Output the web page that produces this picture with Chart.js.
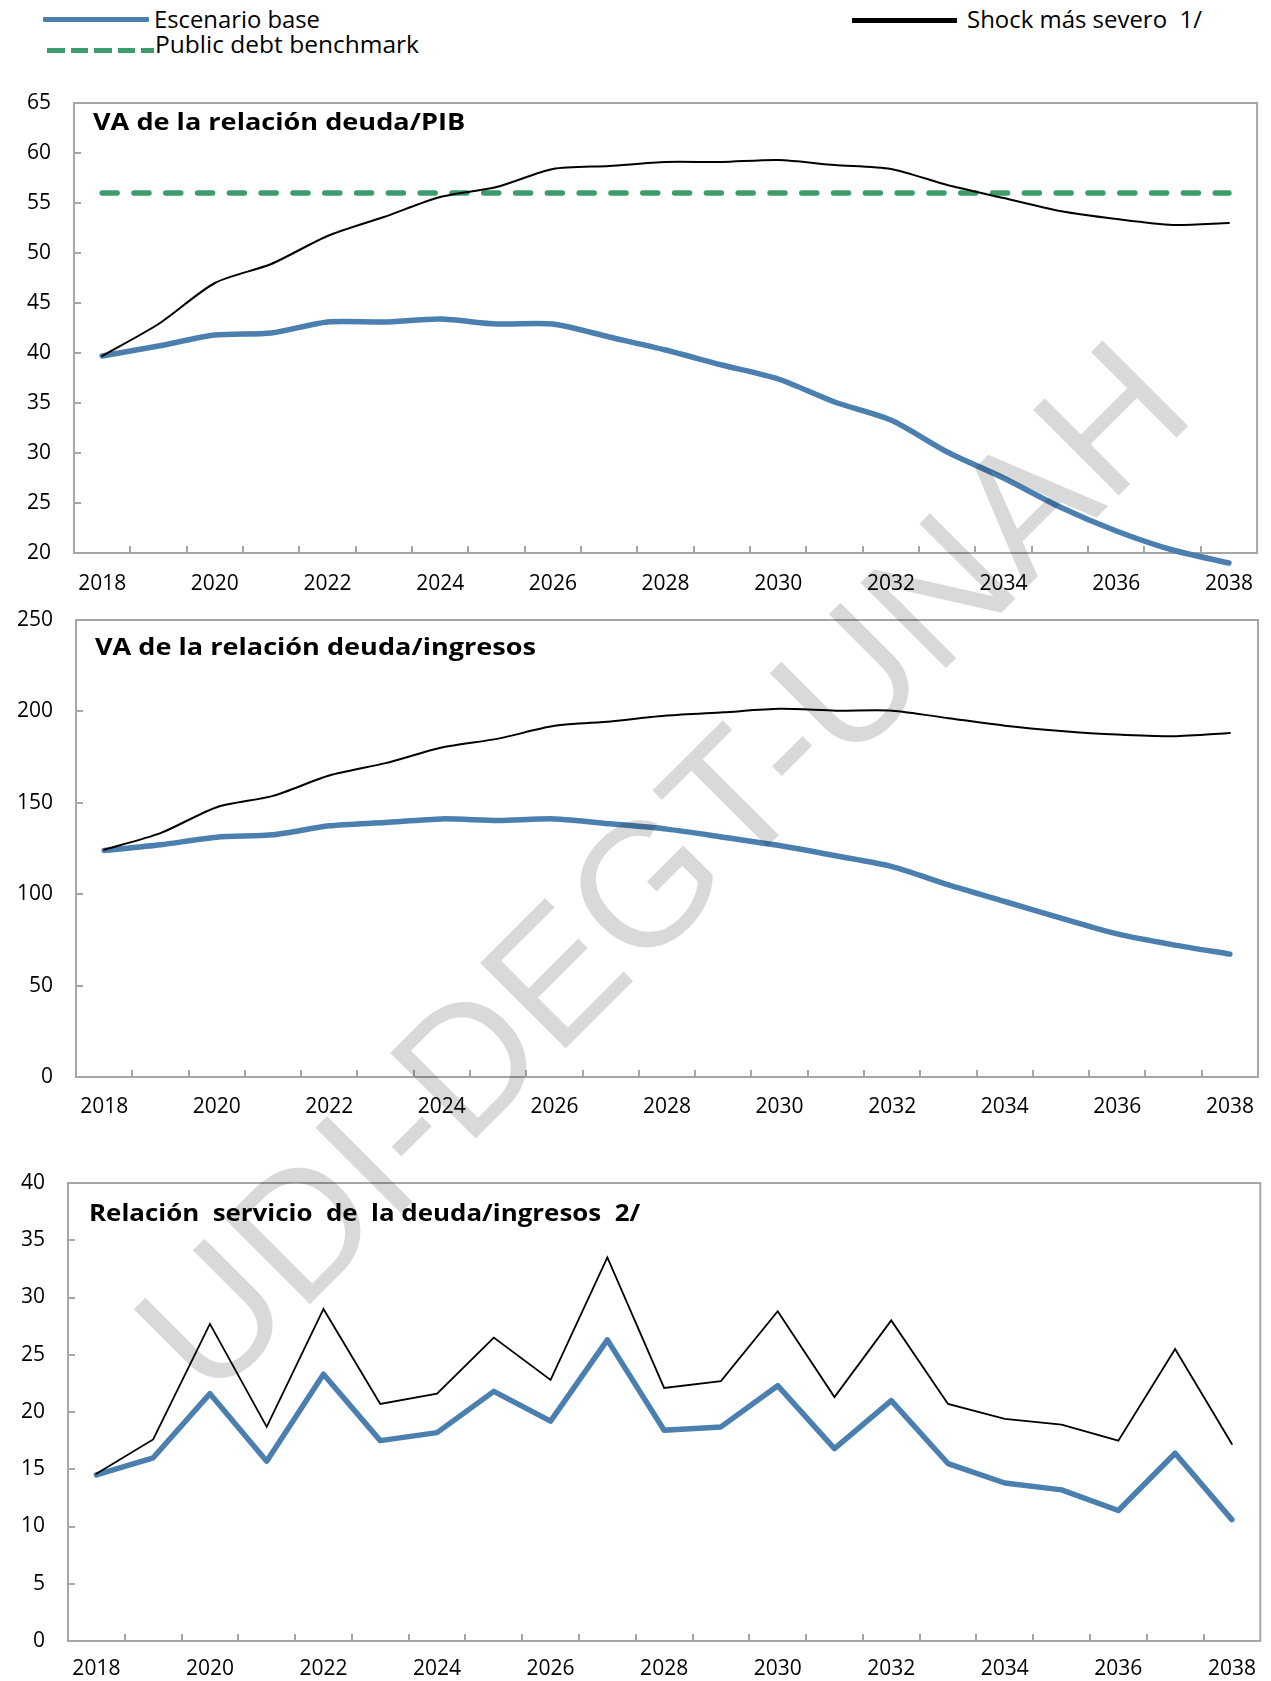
<!DOCTYPE html>
<html>
<head>
<meta charset="utf-8">
<script src="https://cdn.jsdelivr.net/npm/chart.js@4.4.1/dist/chart.umd.min.js"></script>
<style>
  html, body { margin: 0; padding: 0; background: #fff; }
  body { width: 1271px; height: 1681px; position: relative; overflow: hidden; font-family: 'Open Sans', sans-serif; }
  canvas.cv { position: absolute; left: 0; }
  .ttl { position: absolute; font-weight: bold; font-size: 23px; line-height: 23px; white-space: pre; transform-origin: 0 50%; color: #000; }
  .lg { position: absolute; font-size: 23px; line-height: 23px; white-space: pre; transform-origin: 0 50%; color: #000; }
  .sw { position: absolute; }
  .wm { position: absolute; left: 661px; top: 867px; transform: translate(-50%, -50%) rotate(-45deg);
        font-family: 'Liberation Sans', Arial, sans-serif; font-size: 176px; line-height: 1; white-space: nowrap;
        color: rgba(0,0,0,0.15); pointer-events: none; z-index: 10; }
</style>
</head>
<body>
<!-- legend -->
<div class="sw" style="left:43px;top:16.5px;width:106px;height:5.5px;background:#4A7FB0;border-radius:1px;"></div>
<div class="lg" data-w="166" style="left:154px;top:7.8px;">Escenario base</div>
<div class="sw" style="left:47px;top:48.3px;width:107px;height:5px;background:repeating-linear-gradient(to right,#3C9C6C 0,#3C9C6C 17.5px,transparent 17.5px,transparent 23.5px);"></div>
<div class="lg" data-w="264" style="left:155px;top:33.1px;">Public debt benchmark</div>
<div class="sw" style="left:852px;top:18.3px;width:105px;height:4.4px;background:#000;"></div>
<div class="lg" data-w="235" style="left:967px;top:7.8px;">Shock más severo  1/</div>

<canvas id="c1" class="cv" width="1271" height="554" style="top:56px"></canvas>
<canvas id="c2" class="cv" width="1271" height="555" style="top:580px"></canvas>
<canvas id="c3" class="cv" width="1271" height="541" style="top:1140px"></canvas>

<div class="ttl" data-w="372" style="left:93px;top:109.5px;">VA de la relación deuda/PIB</div>
<div class="ttl" data-w="441" style="left:95px;top:634.8px;">VA de la relación deuda/ingresos</div>
<div class="ttl" data-w="551" style="left:89px;top:1201px;">Relación  servicio  de  la deuda/ingresos  2/</div>

<div class="wm">UDI-DEGT-UNAH</div>

<script>
// ---- data ----
const years = ['2018','2019','2020','2021','2022','2023','2024','2025','2026','2027','2028',
               '2029','2030','2031','2032','2033','2034','2035','2036','2037','2038'];
const xTickLabels = ['2018','','2020','','2022','','2024','','2026','','2028',
                     '','2030','','2032','','2034','','2036','','2038'];

// VA de la relación deuda/PIB
const pibBase  = [39.7,40.7,41.8,42.0,43.1,43.1,43.4,42.9,42.9,41.6,40.3,38.8,37.4,35.1,33.3,30.1,27.5,24.6,22.2,20.3,19.0];
const pibShock = [39.7,42.9,47.0,48.9,51.7,53.6,55.6,56.6,58.4,58.7,59.1,59.1,59.3,58.8,58.4,56.8,55.5,54.2,53.4,52.8,53.0];
const pibBenchmark = [56,56,56,56,56,56,56,56,56,56,56,56,56,56,56,56,56,56,56,56,56];

// VA de la relación deuda/ingresos
const ingBase  = [123.9,127.0,131.2,132.5,137.4,139.2,141.2,140.3,141.2,138.5,135.6,131.2,126.6,121.0,115.1,105.1,96.0,86.9,78.3,72.3,67.2];
const ingShock = [124.3,133.4,147.6,153.8,164.9,171.7,180.2,185.1,192.1,194.5,197.7,199.5,201.4,200.4,200.4,196.3,192.2,189.3,187.3,186.4,188.2];

// Relación servicio de la deuda/ingresos
const servBase  = [14.5,16.0,21.6,15.7,23.3,17.5,18.2,21.8,19.2,26.3,18.4,18.7,22.3,16.8,21.0,15.5,13.8,13.2,11.4,16.4,10.6];
const servShock = [14.6,17.6,27.7,18.7,29.0,20.7,21.6,26.5,22.8,33.5,22.1,22.7,28.8,21.3,28.0,20.7,19.4,18.9,17.5,25.5,17.2];

// ---- styling ----
const BLUE = '#4A7FB0', GREEN = '#3C9C6C', BLACK = '#000000', AXIS = '#A6A6A6';
const FONT = { family: "'Open Sans', sans-serif", size: 21 };

const framePlugin = {
  id: 'frame',
  beforeDatasetsDraw(chart) {
    const { ctx, chartArea: a, scales: { x, y } } = chart;
    ctx.save();
    ctx.strokeStyle = AXIS;
    ctx.lineWidth = 2;
    ctx.strokeRect(a.left, a.top, a.right - a.left, a.bottom - a.top);
    ctx.beginPath();
    y.ticks.forEach((t, i) => {
      const py = Math.round(y.getPixelForTick(i));
      ctx.moveTo(a.left, py); ctx.lineTo(a.left + 7, py);
    });
    for (let i = 1; i < x.ticks.length; i++) {
      const px = Math.round((x.getPixelForTick(i - 1) + x.getPixelForTick(i)) / 2);
      ctx.moveTo(px, a.bottom); ctx.lineTo(px, a.bottom - 7);
    }
    ctx.stroke();
    ctx.restore();
  }
};

function lineDs(data, color, width, tension, extra) {
  return Object.assign({
    data, borderColor: color, borderWidth: width, pointRadius: 0, pointHoverRadius: 0,
    fill: false, tension, borderCapStyle: 'round', borderJoinStyle: 'round', clip: false
  }, extra || {});
}

function makeChart(id, datasets, yMin, yMax, yStep, yWidth, xHeight, padTop, padRight, xPad) {
  return new Chart(document.getElementById(id), {
    type: 'line',
    data: { labels: years, datasets },
    options: {
      responsive: false, animation: false, devicePixelRatio: 1,
      layout: { padding: { top: padTop, right: padRight, bottom: 0, left: 0 } },
      plugins: { legend: { display: false }, tooltip: { enabled: false }, title: { display: false } },
      scales: {
        x: {
          type: 'category', offset: true,
          grid: { display: false, drawTicks: false }, border: { display: false },
          ticks: { autoSkip: false, maxRotation: 0, minRotation: 0, padding: xPad, color: '#000', font: FONT,
                   callback: (v, i) => xTickLabels[i] },
          afterFit: s => { s.height = xHeight; }
        },
        y: {
          min: yMin, max: yMax,
          grid: { display: false, drawTicks: false }, border: { display: false },
          ticks: { stepSize: yStep, padding: 23, color: '#000', font: FONT },
          afterFit: s => { s.width = yWidth; }
        }
      }
    },
    plugins: [framePlugin]
  });
}

makeChart('c1', [
  lineDs(pibShock, BLACK, 2, 0.25),
  lineDs(pibBase, BLUE, 5.5, 0.25),
  lineDs(pibBenchmark, GREEN, 5.5, 0, { borderDash: [15, 16.8] })
], 20, 65, 5, 74, 57, 47, 2, 18);

makeChart('c2', [
  lineDs(ingShock, BLACK, 2, 0.25),
  lineDs(ingBase, BLUE, 5.5, 0.25)
], 0, 250, 50, 76, 58, 40, 4, 17);

makeChart('c3', [
  lineDs(servShock, BLACK, 1.8, 0, { borderJoinStyle: 'miter' }),
  lineDs(servBase, BLUE, 5.5, 0)
], 0, 40, 5, 68, 40, 43, 4, 15);

// fit text widths to the reference's measured widths
document.querySelectorAll('[data-w]').forEach(el => {
  const w = el.getBoundingClientRect().width;
  const target = parseFloat(el.dataset.w);
  if (w > 0) el.style.transform = 'scaleX(' + (target / w).toFixed(3) + ')';
});
</script>
</body>
</html>
